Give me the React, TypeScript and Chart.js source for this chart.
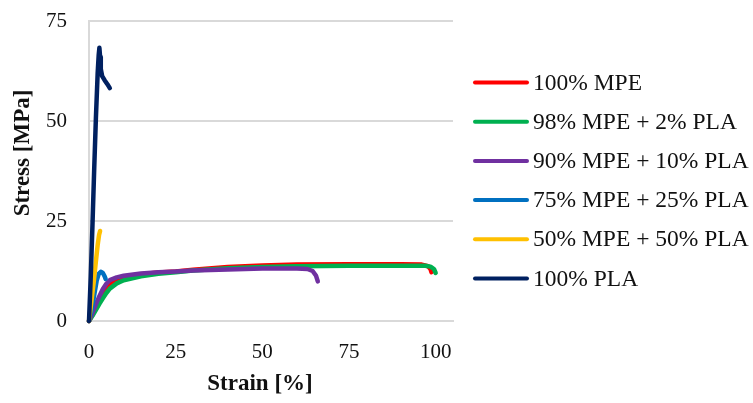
import React, { useEffect, useRef } from "react";
import { Chart, registerables } from "chart.js";

Chart.register(...registerables);

// ---- Data ----
const seriesLabels = [
  "100% MPE",
  "98% MPE + 2% PLA",
  "90% MPE + 10% PLA",
  "75% MPE + 25% PLA",
  "50% MPE + 50% PLA",
  "100% PLA",
];
const seriesColors = ["#FF0000", "#00B050", "#7030A0", "#0070C0", "#FFC000", "#002060"];

const mpe100Strain = [0, 1, 2, 3, 4, 5, 6, 8, 10, 15, 20, 25, 30, 40, 50, 60, 75, 90, 96, 97.8, 98.5, 98.8];
const mpe100Stress = [0, 1.6, 3.4, 5.1, 6.7, 8.0, 9.0, 10.2, 10.9, 11.7, 12.1, 12.4, 12.8, 13.5, 13.9, 14.1, 14.2, 14.2, 14.1, 13.7, 13.0, 12.2];

const mpe98Strain = [0, 1, 2, 3, 4, 5, 6, 8, 10, 15, 20, 25, 30, 40, 50, 60, 75, 90, 97, 98.5, 99.5, 100];
const mpe98Stress = [0, 1.3, 2.8, 4.3, 5.7, 7.0, 8.1, 9.4, 10.2, 11.2, 11.8, 12.2, 12.6, 13.2, 13.5, 13.7, 13.8, 13.8, 13.8, 13.6, 13.0, 12.0];

const mpe90Strain = [0, 1, 2, 3, 4, 5, 6, 8, 10, 15, 20, 25, 30, 40, 50, 60, 63, 64.5, 65.5, 66];
const mpe90Stress = [0, 2.0, 4.2, 6.2, 8.0, 9.3, 10.2, 10.9, 11.3, 11.9, 12.2, 12.4, 12.6, 12.9, 13.1, 13.1, 13.0, 12.5, 11.3, 9.9];

const mpe75Strain = [0, 0.8, 1.5, 2.2, 2.8, 3.4, 4.0, 4.5, 4.8];
const mpe75Stress = [0, 3, 6.5, 10, 11.8, 12.3, 12.0, 11.2, 10.5];

const mpe50Strain = [0, 0.7, 1.4, 2.0, 2.5, 2.9, 3.2];
const mpe50Stress = [0, 5, 10, 15, 19, 21.5, 22.5];

const plaStrain = [0, 0.5, 1.0, 1.5, 2.0, 2.5, 2.8, 3.0, 3.2, 3.4, 3.8, 4.5, 5.3, 6.0];
const plaStress = [0, 11, 24, 38, 51, 62, 66.5, 68.3, 66, 63, 61.2, 60.2, 59.2, 58.2];

const strainSeries = [mpe100Strain, mpe98Strain, mpe90Strain, mpe75Strain, mpe50Strain, plaStrain];
const stressSeries = [mpe100Stress, mpe98Stress, mpe90Stress, mpe75Stress, mpe50Stress, plaStress];

const xTicks = [0, 25, 50, 75, 100];
const yTicks = [0, 25, 50, 75];
const xTitle = "Strain [%]";
const yTitle = "Stress [MPa]";

const FONT = '"Liberation Serif", "Times New Roman", serif';

const overlayPlugin = {
  id: "overlay",
  afterDraw(chart: any) {
    const ctx = chart.ctx;
    ctx.save();
    // legend
    const legendTop = 82.5;
    const legendStep = 39.2;
    chart.data.datasets.forEach((ds: any, i: number) => {
      const y = legendTop + i * legendStep;
      ctx.strokeStyle = ds.borderColor;
      ctx.lineWidth = 4;
      ctx.lineCap = "round";
      ctx.beginPath();
      ctx.moveTo(475, y);
      ctx.lineTo(527, y);
      ctx.stroke();
      ctx.fillStyle = "#111";
      ctx.font = `23.5px ${FONT}`;
      ctx.textBaseline = "middle";
      ctx.textAlign = "left";
      ctx.fillText(ds.label, 533, y + 1);
    });
    // axis titles
    ctx.fillStyle = "#111";
    ctx.font = `bold 23px ${FONT}`;
    ctx.textAlign = "center";
    ctx.textBaseline = "middle";
    ctx.fillText(xTitle, 260, 384);
    ctx.translate(23, 153);
    ctx.rotate(-Math.PI / 2);
    ctx.fillText(yTitle, 0, 0);
    ctx.restore();
  },
};

export default function App() {
  const canvasRef = useRef<HTMLCanvasElement | null>(null);

  useEffect(() => {
    document.body.style.margin = "0";
    const canvas = canvasRef.current;
    if (!canvas) return;
    const datasets = seriesLabels.map((label, i) => ({
      label,
      data: strainSeries[i].map((x, j) => ({ x, y: stressSeries[i][j] })),
      borderColor: seriesColors[i],
      backgroundColor: seriesColors[i],
      borderWidth: 4.5,
      showLine: true,
      pointRadius: 0,
      borderCapStyle: "round" as const,
      borderJoinStyle: "round" as const,
      tension: 0,
      clip: false as any,
      order: seriesLabels.length - i,
    }));
    const chart = new Chart(canvas, {
      type: "scatter",
      data: { datasets },
      options: {
        animation: false,
        responsive: false,
        layout: { padding: { top: 21, right: 300, left: 0, bottom: 0 } },
        plugins: {
          legend: { display: false },
          tooltip: { enabled: false },
        },
        scales: {
          x: {
            type: "linear",
            min: 0,
            max: 105,
            afterBuildTicks: (s: any) => {
              s.ticks = xTicks.map((v) => ({ value: v }));
            },
            afterFit: (s: any) => {
              s.height = 82;
              s.paddingLeft = 0;
              s.paddingRight = 0;
            },
            grid: { display: false, drawTicks: false },
            border: { display: true, color: "#d9d9d9", width: 2 },
            ticks: { color: "#111", font: { family: FONT, size: 21 }, padding: 19, maxRotation: 0 },
          },
          y: {
            type: "linear",
            min: 0,
            max: 75,
            afterBuildTicks: (s: any) => {
              s.ticks = yTicks.map((v) => ({ value: v }));
            },
            afterFit: (s: any) => {
              s.width = 89;
              s.paddingTop = 0;
              s.paddingBottom = 0;
            },
            grid: { color: "#d9d9d9", lineWidth: 2, drawTicks: false },
            border: { display: true, color: "#d9d9d9", width: 2 },
            ticks: { color: "#111", font: { family: FONT, size: 21 }, padding: 22 },
          },
        },
      },
      plugins: [overlayPlugin],
    });
    return () => chart.destroy();
  }, []);

  return (
    <div style={{ position: "absolute", left: 0, top: 0, width: 753, height: 403 }}>
      <canvas ref={canvasRef} width={753} height={403} style={{ width: 753, height: 403 }} />
    </div>
  );
}
